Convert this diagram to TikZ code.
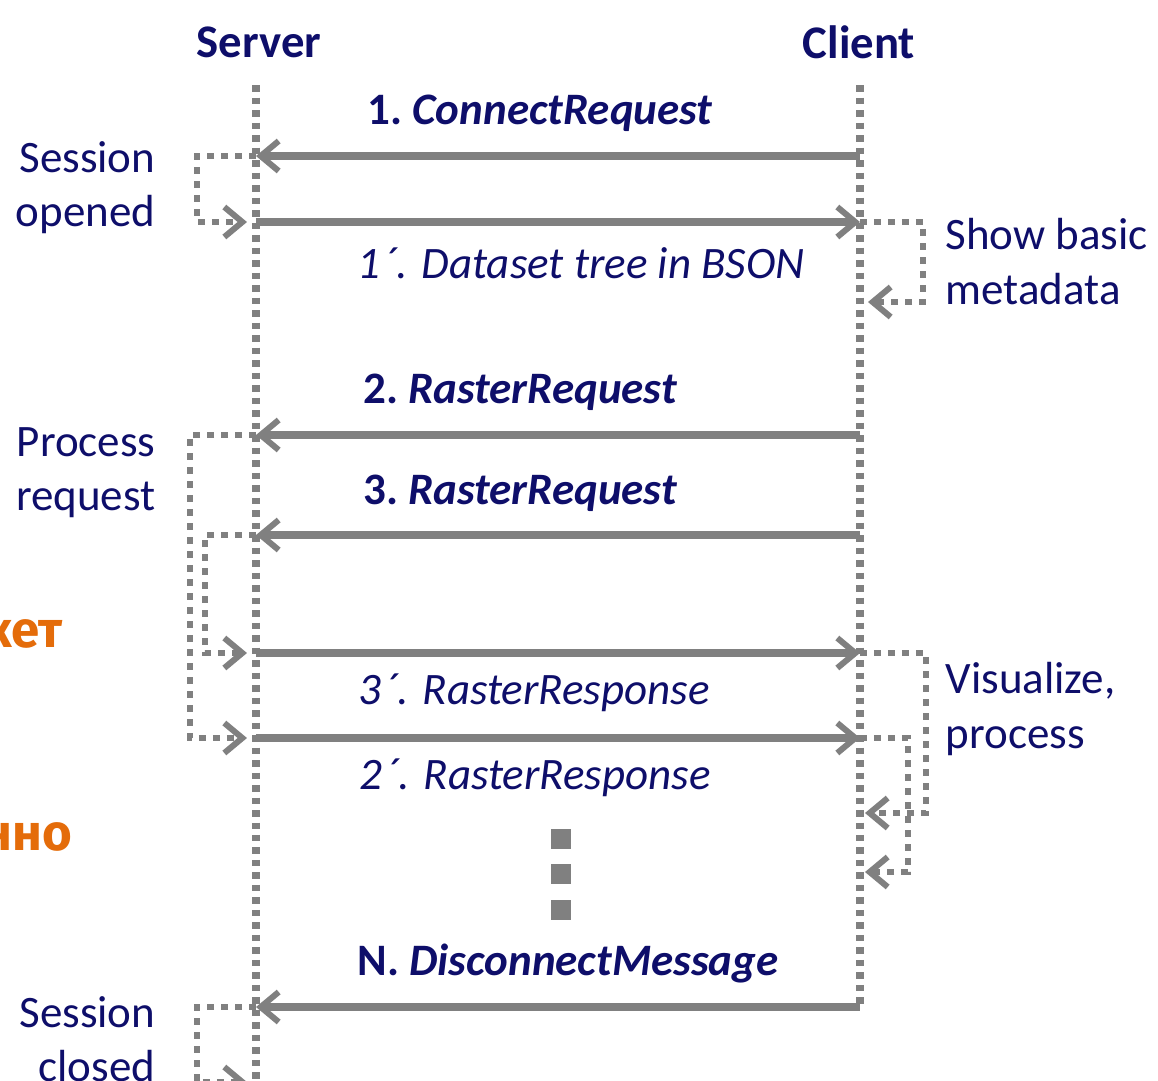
\documentclass[tikz,border=0pt]{standalone}
\usepackage{fontspec}
\setmainfont{Carlito}
\newfontfamily\ruhead{Fira Sans}
\usetikzlibrary{positioning,calc,arrows.meta}
\definecolor{Ink}{RGB}{14,14,106}
\definecolor{Wire}{RGB}{128,128,128}
\definecolor{Tang}{RGB}{228,108,10}
\tikzset{>={Straight Barb[length=1.8mm,width=3mm,line width=0.6mm]}}
\tikzset{
  life/.style={Wire,line width=0.8mm,dash pattern=on 0.65mm off 0.6mm},
  msg/.style={Wire,line width=0.8mm,->},
  selfloop/.style={Wire,line width=0.6mm,dash pattern=on 0.7mm off 0.7mm,->},
  txt/.style={text=Ink,font=\fontsize{12.8}{15.4}\selectfont,inner sep=0pt},
  msglabel/.style={txt,font=\fontsize{12.8}{15.4}\selectfont\itshape},
  cuttext/.style={text=Tang,font=\ruhead\bfseries\fontsize{14.5}{16}\selectfont,inner sep=0pt,anchor=base east},
}
\newcommand{\stepno}[2]{{\bfseries\upshape #1.}~{\bfseries\itshape #2}}

\begin{document}
\begin{tikzpicture}[x=0.1mm,y=-0.1mm, line join=miter]
  \useasboundingbox (0,0) rectangle (1158,1080);

  % Lifelines
  \coordinate (Stop) at (256,85);  \coordinate (Sbot) at (256,1085);
  \coordinate (Ctop) at (860,85);  \coordinate (Cbot) at (860,1005);
  \draw[life] (Stop) -- (Sbot);
  \draw[life] (Ctop) -- (Cbot);

  \node[txt,font=\fontsize{13.3}{15.4}\selectfont\bfseries] (server) at (259,42) {Server};
  \node[txt,font=\fontsize{13.3}{15.4}\selectfont\bfseries] (client) at (859,42) {Client};

  % Message ends on the lifelines
  \coordinate (S1)  at (256,156);  \coordinate (C1)  at (860,156);
  \coordinate (S1r) at (256,222);  \coordinate (C1r) at (860,222);
  \coordinate (S2)  at (256,435);  \coordinate (C2)  at (860,435);
  \coordinate (S3)  at (256,535);  \coordinate (C3)  at (860,535);
  \coordinate (S3r) at (256,653);  \coordinate (C3r) at (860,653);
  \coordinate (S2r) at (256,738);  \coordinate (C2r) at (860,738);
  \coordinate (SN)  at (256,1007); \coordinate (CN)  at (860,1007);

  % Messages
  \draw[msg] (C1) -- (S1);
  \draw[msg] (S1r) -- (C1r);
  \draw[msg] (C2) -- (S2);
  \draw[msg] (C3) -- (S3);
  \draw[msg] (S3r) -- (C3r);
  \draw[msg] (S2r) -- (C2r);
  \draw[msg] (CN) -- (SN);

  \node[msglabel] (m1)  at (540,113) {\stepno{1}{ConnectRequest}};
  \node[msglabel] (m1r) at (581,263) {1\kern1pt´. Dataset tree in BSON};
  \node[msglabel] (m2)  at (520,392) {\stepno{2}{RasterRequest}};
  \node[msglabel] (m3)  at (520,493) {\stepno{3}{RasterRequest}};
  \node[msglabel] (m3r) at (534,693) {3\kern1pt´. RasterResponse};
  \node[msglabel] (m2r) at (535,778) {2\kern1pt´. RasterResponse};
  \node[msglabel] (mN)  at (568,963) {\stepno{N}{DisconnectMessage}};

  % Self loops, server side
  \draw[selfloop] (S1) -- ++(-59,0) |- ($(S1r)+(-9,0)$);
  \draw[selfloop] (S2) -- ++(-66,0) |- ($(S2r)+(-9,0)$);
  \draw[selfloop] (S3) -- ++(-51,0) |- ($(S3r)+(-9,0)$);
  \draw[selfloop] (SN) -- ++(-59,0) |- ($(SN)+(-9,75)$);

  % Self loops, client side
  \draw[selfloop] (C1r) -- ++(63,0) |- ($(C1)+(8,146)$);
  \draw[selfloop] (C3r) -- ++(66,0) |- ($(C3r)+(5,160)$);
  \draw[selfloop] (C2r) -- ++(48,0) |- ($(C2r)+(5,134)$);

  \node[txt,align=right,anchor=north east] (opened) at (156,141) {Session\\opened};
  \node[txt,align=right,anchor=north east] (procreq) at (156,427) {Process\\request};
  \node[txt,align=right,anchor=north east] (closed) at (156,996) {Session\\closed};
  \node[txt,align=left,anchor=north west] (showmeta) at (945,218) {Show basic\\metadata};
  \node[txt,align=left,anchor=north west] (visual) at (945,662) {Visualize,\\process};

  % Vertical ellipsis
  \foreach \y in {839,874,910}
    \fill[Wire] (551,\y-10) rectangle (571,\y+10);

  % Clipped slide text
  \node[cuttext] (tail1) at (63,647) {кет};
  \node[cuttext] (tail2) at (73,850) {нно};
\end{tikzpicture}
\end{document}
